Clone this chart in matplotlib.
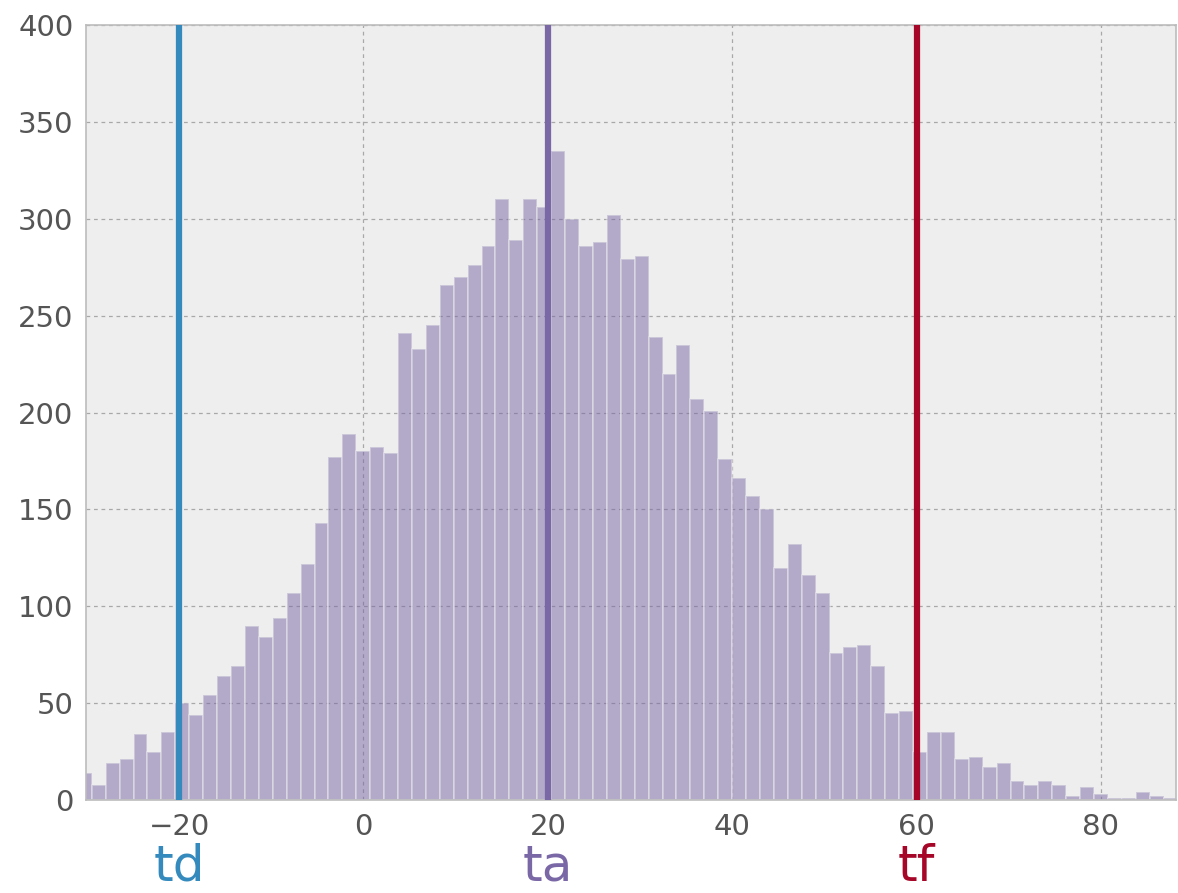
import numpy as np
import matplotlib
matplotlib.use("Agg")
import matplotlib.pyplot as plt
import matplotlib.transforms as mtransforms

plt.style.use("bmh")

# histogram counts, equal-width bins starting at BIN_START
BIN_START = -30.98
BIN_WIDTH = 1.51
counts = [14, 8, 19, 21, 34, 25, 35, 50, 44, 54,
          64, 69, 90, 84, 94, 107, 122, 143, 177, 189,
          180, 182, 179, 241, 233, 245, 266, 270, 276, 286,
          310, 289, 310, 306, 335, 300, 286, 288, 302, 279,
          281, 239, 220, 235, 207, 201, 176, 166, 157, 150,
          120, 132, 116, 107, 76, 79, 80, 69, 45, 46,
          25, 35, 35, 21, 22, 17, 19, 10, 8, 10,
          8, 2, 7, 3, 1, 1, 4, 2, 1, 1]

# marker times and their labels
t_names = ["td", "ta", "tf"]
t_values = [-20, 20, 60]
t_colors = ["#348ABD", "#7A68A6", "#A60628"]

edges = BIN_START + BIN_WIDTH * np.arange(len(counts) + 1)

fig = plt.figure(figsize=(11.78, 8.93), dpi=100)
ax = fig.add_axes([0.073, 0.104, 0.925, 0.868])

ax.hist(edges[:-1], bins=edges, weights=counts, color="#7A68A6", alpha=0.5,
        edgecolor="#eeeeee", linewidth=1.2)

tr = mtransforms.blended_transform_factory(ax.transData, ax.transAxes)
for name, t, c in zip(t_names, t_values, t_colors):
    ax.axvline(t, color=c, lw=4.5, zorder=3)
    ax.text(t, -0.104, name, transform=tr, color=c, fontsize=36,
            ha="center", va="baseline")

ax.set_xlim(-30.1, 88.1)
ax.set_ylim(0, 400)
ax.set_xticks([-20, 0, 20, 40, 60, 80])
ax.set_yticks(range(0, 401, 50))
ax.grid(True, color="#a8a8a8", linestyle=(0, (3, 3)), linewidth=0.9)
ax.set_axisbelow(True)
ax.tick_params(axis="both", labelsize=21, labelcolor="#555555", length=0, pad=9)
for s in ax.spines.values():
    s.set_edgecolor("#bcbcbc")
    s.set_linewidth(1.2)

fig.savefig("out.png", dpi=100)
